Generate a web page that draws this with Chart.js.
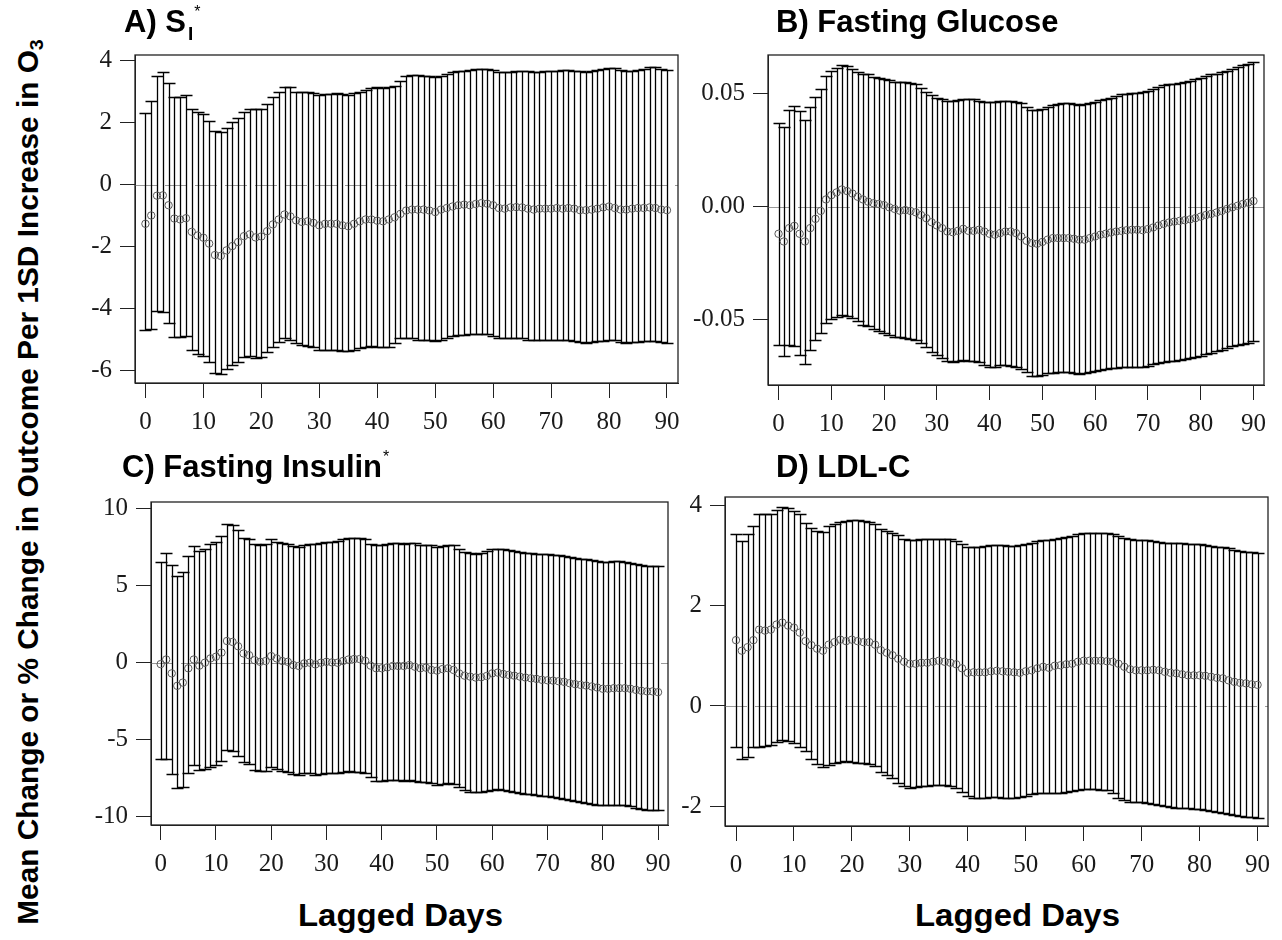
<!DOCTYPE html>
<html>
<head>
<meta charset="utf-8">
<script src="https://cdn.jsdelivr.net/npm/chart.js@4.4.1/dist/chart.umd.min.js"></script>
<style>
  body { margin: 0; background: #fff; width: 1282px; height: 940px; position: relative; overflow: hidden;
         font-family: 'Liberation Sans', Arial, sans-serif; }
  canvas { position: absolute; }
  .title { position: absolute; font-weight: bold; font-size: 31px; line-height: 1; white-space: nowrap; color: #000; }
  .sub { font-size: 19px; position: relative; top: 8px; margin-left: 2px; }
  .sup { font-size: 16px; font-weight: normal; position: relative; top: -15px; margin-left: 1px; }
  .xlab { position: absolute; font-weight: bold; font-size: 31px; line-height: 1; white-space: nowrap;
          transform-origin: center; }
  #ylab { position: absolute; font-weight: bold; font-size: 29px; line-height: 1; white-space: nowrap; }
</style>
</head>
<body>
<canvas id="chartA"></canvas>
<canvas id="chartB"></canvas>
<canvas id="chartC"></canvas>
<canvas id="chartD"></canvas>

<div class="title" style="left:124px;top:6px">A) S<span class="sub">I</span><span class="sup">*</span></div>
<div class="title" style="left:776px;top:6px">B) Fasting Glucose</div>
<div class="title" style="left:122px;top:451px">C) Fasting Insulin<span class="sup">*</span></div>
<div class="title" style="left:776px;top:451px">D) LDL-C</div>
<div class="xlab" id="xlabL" style="top:900px">Lagged Days</div>
<div class="xlab" id="xlabR" style="top:900px">Lagged Days</div>
<div id="ylab">Mean Change or % Change in Outcome Per 1SD Increase in O<sub style="font-size:19px;vertical-align:-5px">3</sub></div>

<script>
// lagged days 0..90
const lags = [0,1,2,3,4,5,6,7,8,9,10,11,12,13,14,15,16,17,18,19,20,21,22,23,24,25,26,27,28,29,
  30,31,32,33,34,35,36,37,38,39,40,41,42,43,44,45,46,47,48,49,50,51,52,53,54,55,56,57,58,59,
  60,61,62,63,64,65,66,67,68,69,70,71,72,73,74,75,76,77,78,79,80,81,82,83,84,85,86,87,88,89,90];
const xTicks = [0, 10, 20, 30, 40, 50, 60, 70, 80, 90];

// A) SI*
const siEst = [-1.27,-1.0,-0.36,-0.35,-0.67,-1.1,-1.13,-1.09,-1.53,-1.65,
  -1.72,-1.91,-2.28,-2.31,-2.13,-1.99,-1.86,-1.67,-1.61,-1.71,
  -1.68,-1.51,-1.29,-1.13,-0.97,-1.03,-1.16,-1.21,-1.19,-1.24,
  -1.32,-1.27,-1.27,-1.27,-1.32,-1.35,-1.27,-1.19,-1.13,-1.13,
  -1.17,-1.19,-1.13,-1.06,-0.95,-0.84,-0.81,-0.81,-0.81,-0.84,
  -0.89,-0.81,-0.76,-0.71,-0.67,-0.65,-0.67,-0.63,-0.6,-0.62,
  -0.67,-0.76,-0.78,-0.74,-0.73,-0.74,-0.78,-0.81,-0.78,-0.78,
  -0.78,-0.76,-0.78,-0.76,-0.78,-0.83,-0.83,-0.81,-0.78,-0.74,
  -0.71,-0.76,-0.81,-0.81,-0.78,-0.76,-0.76,-0.74,-0.76,-0.81,
  -0.83];
const siHi = [2.32,2.7,3.5,3.63,3.3,2.83,2.82,2.88,2.45,2.36,
  2.29,2.07,1.72,1.7,1.83,2.02,2.16,2.34,2.45,2.43,
  2.43,2.61,2.82,3.0,3.14,3.14,2.98,2.98,2.98,2.96,
  2.9,2.92,2.93,2.95,2.93,2.9,2.96,3.0,3.07,3.13,
  3.14,3.12,3.14,3.2,3.36,3.52,3.54,3.54,3.52,3.5,
  3.47,3.5,3.57,3.63,3.66,3.68,3.71,3.73,3.75,3.73,
  3.7,3.65,3.63,3.65,3.68,3.68,3.66,3.63,3.65,3.67,
  3.68,3.68,3.7,3.7,3.68,3.66,3.65,3.67,3.7,3.73,
  3.76,3.76,3.7,3.68,3.68,3.7,3.73,3.79,3.79,3.73,
  3.7];
const siLo = [-4.72,-4.66,-4.1,-4.13,-4.48,-4.93,-4.93,-4.91,-5.36,-5.47,
  -5.55,-5.73,-6.09,-6.13,-5.98,-5.84,-5.73,-5.57,-5.55,-5.61,
  -5.57,-5.41,-5.25,-5.09,-4.98,-5.02,-5.14,-5.2,-5.23,-5.27,
  -5.34,-5.36,-5.34,-5.36,-5.38,-5.38,-5.36,-5.3,-5.25,-5.23,
  -5.25,-5.27,-5.25,-5.14,-4.98,-4.95,-4.98,-5.02,-5.02,-5.04,
  -5.06,-5.02,-4.95,-4.91,-4.88,-4.86,-4.84,-4.82,-4.82,-4.84,
  -4.91,-4.98,-4.98,-4.95,-4.95,-4.98,-5.02,-5.04,-5.04,-5.04,
  -5.04,-5.04,-5.04,-5.04,-5.06,-5.09,-5.11,-5.09,-5.07,-5.06,
  -5.04,-5.04,-5.09,-5.11,-5.09,-5.09,-5.06,-5.06,-5.06,-5.09,
  -5.12];
const siTicks = [-6, -4, -2, 0, 2, 4];

// B) Fasting glucose
const gluEst = [-0.012,-0.0154,-0.0095,-0.0085,-0.012,-0.0154,-0.0095,-0.0054,-0.0019,0.0032,
  0.0051,0.0063,0.0076,0.0069,0.0058,0.0044,0.0032,0.0022,0.0015,0.0012,
  0.0007,-0.0003,-0.001,-0.0018,-0.0015,-0.0019,-0.0025,-0.0037,-0.0051,-0.0069,
  -0.0083,-0.0095,-0.011,-0.0113,-0.0107,-0.0098,-0.0107,-0.0107,-0.0102,-0.011,
  -0.012,-0.0124,-0.0117,-0.011,-0.011,-0.0117,-0.0132,-0.0151,-0.0161,-0.0164,
  -0.0156,-0.0146,-0.0139,-0.0139,-0.0139,-0.0139,-0.0142,-0.0146,-0.0146,-0.0139,
  -0.0132,-0.0124,-0.012,-0.0114,-0.011,-0.0107,-0.0104,-0.0102,-0.0102,-0.0104,
  -0.0099,-0.0092,-0.0083,-0.0076,-0.007,-0.0066,-0.0063,-0.006,-0.0056,-0.0051,
  -0.0044,-0.0037,-0.0032,-0.0026,-0.0019,-0.001,-0.0003,0.0004,0.0012,0.0018,
  0.0025];
const gluHi = [0.037,0.0351,0.0428,0.0446,0.0424,0.0385,0.0443,0.0487,0.0522,0.058,
  0.0599,0.0614,0.0626,0.0621,0.061,0.0595,0.0588,0.0585,0.0573,0.057,
  0.0567,0.056,0.0551,0.0551,0.0551,0.0545,0.0541,0.0526,0.0507,0.0493,
  0.0482,0.0475,0.0468,0.0468,0.0471,0.0478,0.0475,0.0475,0.0468,0.0465,
  0.0465,0.0465,0.0468,0.0468,0.0468,0.0463,0.046,0.0443,0.0428,0.0427,
  0.0431,0.0439,0.0449,0.0456,0.0458,0.0458,0.0453,0.045,0.0453,0.046,
  0.0465,0.0472,0.0478,0.0482,0.049,0.0497,0.05,0.0501,0.0504,0.0507,
  0.0512,0.0522,0.0531,0.0537,0.0541,0.0544,0.0547,0.0551,0.0556,0.0563,
  0.057,0.058,0.0585,0.0589,0.0596,0.0602,0.0611,0.0618,0.0626,0.0633,
  0.0639];
const gluLo = [-0.061,-0.0662,-0.061,-0.0618,-0.0658,-0.0697,-0.0636,-0.0592,-0.056,-0.0516,
  -0.0497,-0.0487,-0.0478,-0.0482,-0.0493,-0.0507,-0.0522,-0.0526,-0.0541,-0.0551,
  -0.0558,-0.0566,-0.0575,-0.0577,-0.058,-0.0585,-0.0592,-0.0604,-0.0621,-0.0643,
  -0.0658,-0.0668,-0.0683,-0.0687,-0.0683,-0.0677,-0.0683,-0.0683,-0.0687,-0.0702,
  -0.0709,-0.0709,-0.0702,-0.0699,-0.0705,-0.0709,-0.0716,-0.0731,-0.075,-0.075,
  -0.0746,-0.0738,-0.0734,-0.0731,-0.0731,-0.0731,-0.0738,-0.0741,-0.0738,-0.0731,
  -0.0727,-0.0721,-0.0716,-0.0713,-0.0712,-0.0709,-0.0709,-0.0709,-0.0709,-0.0709,
  -0.0705,-0.0697,-0.069,-0.0687,-0.0684,-0.0683,-0.068,-0.0675,-0.067,-0.0665,
  -0.0661,-0.0654,-0.0646,-0.064,-0.0633,-0.0626,-0.0617,-0.061,-0.0607,-0.0602,
  -0.0595];
const gluTicks = [-0.05, 0, 0.05];

// C) Fasting insulin*
const insEst = [-0.09,0.21,-0.69,-1.5,-1.29,-0.36,0.21,-0.19,0,0.28,
  0.39,0.66,1.41,1.35,1.07,0.6,0.49,0.17,0.06,0.11,
  0.43,0.28,0.11,0.06,-0.15,-0.21,-0.04,0,-0.11,0,
  0.06,0.02,0,0.11,0.21,0.24,0.24,0.13,-0.19,-0.36,
  -0.36,-0.3,-0.21,-0.21,-0.21,-0.15,-0.26,-0.36,-0.32,-0.47,
  -0.51,-0.41,-0.36,-0.47,-0.69,-0.84,-0.9,-0.96,-0.94,-0.86,
  -0.69,-0.64,-0.73,-0.79,-0.84,-0.9,-0.96,-1.01,-1.05,-1.11,
  -1.14,-1.16,-1.2,-1.24,-1.33,-1.39,-1.44,-1.48,-1.54,-1.61,
  -1.69,-1.69,-1.65,-1.65,-1.65,-1.69,-1.76,-1.82,-1.86,-1.86,
  -1.91];
const insHi = [6.56,7.1,6.32,5.64,5.89,6.92,7.57,7.25,7.4,7.72,
  7.85,8.21,9.0,8.96,8.64,8.1,8.0,7.72,7.67,7.72,
  8.0,7.85,7.78,7.72,7.57,7.5,7.67,7.72,7.72,7.78,
  7.82,7.85,7.89,8.0,8.1,8.1,8.1,8.04,7.72,7.67,
  7.67,7.72,7.74,7.74,7.72,7.78,7.74,7.61,7.67,7.63,
  7.52,7.57,7.67,7.61,7.4,7.18,7.1,7.07,7.14,7.25,
  7.35,7.4,7.35,7.31,7.25,7.18,7.14,7.1,7.07,7.05,
  7.03,6.99,6.97,6.92,6.86,6.82,6.75,6.71,6.67,6.6,
  6.56,6.56,6.58,6.58,6.56,6.5,6.43,6.35,6.28,6.28,
  6.28];
const insLo = [-6.26,-6.22,-7.22,-8.12,-8.08,-7.18,-6.62,-6.97,-6.9,-6.75,
  -6.62,-6.37,-5.68,-5.72,-6.05,-6.47,-6.58,-6.97,-7.05,-7.01,
  -6.75,-6.9,-7.01,-7.12,-7.22,-7.29,-7.18,-7.18,-7.27,-7.22,
  -7.18,-7.18,-7.18,-7.12,-7.05,-7.07,-7.07,-7.18,-7.44,-7.65,
  -7.65,-7.61,-7.59,-7.59,-7.65,-7.59,-7.65,-7.76,-7.72,-7.8,
  -7.91,-7.87,-7.82,-7.87,-8.08,-8.25,-8.36,-8.4,-8.36,-8.3,
  -8.23,-8.19,-8.25,-8.3,-8.36,-8.45,-8.51,-8.55,-8.6,-8.62,
  -8.66,-8.72,-8.77,-8.83,-8.9,-8.98,-9.05,-9.09,-9.15,-9.2,
  -9.26,-9.26,-9.26,-9.26,-9.26,-9.32,-9.41,-9.47,-9.54,-9.54,
  -9.54];
const insTicks = [-10, -5, 0, 5, 10];

// D) LDL-C
const ldlEst = [1.31,1.1,1.17,1.31,1.52,1.5,1.52,1.62,1.66,1.6,
  1.56,1.46,1.29,1.21,1.14,1.1,1.22,1.27,1.32,1.29,
  1.32,1.29,1.27,1.27,1.22,1.11,1.06,1.01,0.94,0.88,
  0.84,0.84,0.86,0.86,0.88,0.9,0.88,0.86,0.83,0.75,
  0.66,0.67,0.67,0.67,0.69,0.7,0.69,0.68,0.67,0.66,
  0.69,0.71,0.75,0.78,0.76,0.8,0.81,0.83,0.84,0.88,
  0.9,0.9,0.9,0.9,0.89,0.88,0.84,0.78,0.73,0.71,
  0.71,0.71,0.72,0.71,0.68,0.66,0.65,0.63,0.61,0.61,
  0.61,0.6,0.58,0.56,0.55,0.51,0.48,0.46,0.45,0.43,
  0.42];
const ldlHi = [3.42,3.29,3.42,3.58,3.82,3.82,3.83,3.91,3.96,3.95,
  3.89,3.82,3.64,3.55,3.49,3.47,3.58,3.62,3.66,3.68,
  3.7,3.7,3.68,3.66,3.62,3.52,3.49,3.45,3.4,3.32,
  3.3,3.3,3.32,3.32,3.33,3.33,3.33,3.32,3.29,3.23,
  3.17,3.17,3.17,3.19,3.21,3.2,3.2,3.19,3.19,3.2,
  3.22,3.25,3.29,3.3,3.3,3.33,3.35,3.37,3.39,3.42,
  3.44,3.45,3.45,3.45,3.45,3.43,3.39,3.34,3.32,3.3,
  3.3,3.3,3.29,3.27,3.25,3.25,3.24,3.24,3.22,3.22,
  3.22,3.21,3.19,3.17,3.16,3.14,3.11,3.09,3.07,3.06,
  3.04];
const ldlLo = [-0.81,-1.06,-1.02,-0.81,-0.81,-0.79,-0.77,-0.72,-0.67,-0.69,
  -0.74,-0.81,-0.89,-1.06,-1.16,-1.22,-1.18,-1.14,-1.12,-1.1,
  -1.12,-1.14,-1.14,-1.16,-1.2,-1.32,-1.37,-1.43,-1.53,-1.6,
  -1.63,-1.62,-1.6,-1.6,-1.58,-1.58,-1.58,-1.6,-1.63,-1.72,
  -1.8,-1.83,-1.83,-1.83,-1.82,-1.82,-1.83,-1.84,-1.84,-1.82,
  -1.8,-1.76,-1.74,-1.74,-1.74,-1.74,-1.73,-1.72,-1.7,-1.68,
  -1.66,-1.66,-1.66,-1.67,-1.68,-1.73,-1.83,-1.88,-1.91,-1.91,
  -1.91,-1.93,-1.95,-1.97,-1.99,-2.01,-2.03,-2.04,-2.04,-2.05,
  -2.06,-2.08,-2.09,-2.11,-2.13,-2.16,-2.18,-2.19,-2.21,-2.22,
  -2.24];
const ldlTicks = [-2, 0, 2, 4];

// plot boxes in page pixels and axis ranges
const panels = [
  { id: 'chartA', box: { l: 135, t: 52, r: 678, b: 383 }, est: siEst, lo: siLo, hi: siHi,
    x: [-1.8, 91.9], y: [-6.42, 4.19], ticks: siTicks, fmt: v => String(v) },
  { id: 'chartB', box: { l: 768, t: 52, r: 1264, b: 385 }, est: gluEst, lo: gluLo, hi: gluHi,
    x: [-2.0, 92.0], y: [-0.0789, 0.0671], ticks: gluTicks, fmt: v => v.toFixed(2) },
  { id: 'chartC', box: { l: 151, t: 499, r: 668, b: 825 }, est: insEst, lo: insLo, hi: insHi,
    x: [-1.75, 91.8], y: [-10.53, 10.43], ticks: insTicks, fmt: v => String(v) },
  { id: 'chartD', box: { l: 725, t: 494, r: 1268, b: 826 }, est: ldlEst, lo: ldlLo, hi: ldlHi,
    x: [-1.9, 91.8], y: [-2.39, 4.16], ticks: ldlTicks, fmt: v => String(v) },
];

const PAD_L = 80, PAD_T = 20, PAD_R = 30, PAD_B = 70;
const tickFont = { family: '"Liberation Serif", "Times New Roman", serif', size: 25 };

function errorBars(lo, hi) {
  return {
    id: 'errorBars',
    beforeDatasetsDraw(chart) {
      const { ctx, chartArea: a, scales: { x, y } } = chart;
      ctx.save();
      // dashed reference line at zero
      const y0 = Math.round(y.getPixelForValue(0)) + 0.5;
      ctx.strokeStyle = '#999';
      ctx.lineWidth = 1.2;
      ctx.setLineDash([22, 8]);
      ctx.beginPath();
      ctx.moveTo(a.left, y0);
      ctx.lineTo(a.right, y0);
      ctx.stroke();
      ctx.setLineDash([]);

      ctx.strokeStyle = '#000';
      ctx.lineWidth = 1.3;
      lags.forEach((lag, i) => {
        const px = Math.round(x.getPixelForValue(lag)) + 0.5;
        const yl = Math.round(y.getPixelForValue(lo[i])) + 0.5;
        const yh = Math.round(y.getPixelForValue(hi[i])) + 0.5;
        ctx.beginPath();
        ctx.moveTo(px, yl);
        ctx.lineTo(px, yh);
        ctx.moveTo(px - 6, yl);
        ctx.lineTo(px + 6, yl);
        ctx.moveTo(px - 6, yh);
        ctx.lineTo(px + 6, yh);
        ctx.stroke();
      });
      ctx.restore();
    },
    afterDraw(chart) {
      const { ctx, chartArea: a } = chart;
      ctx.save();
      ctx.strokeStyle = '#222';
      ctx.lineWidth = 1.3;
      ctx.strokeRect(a.left, a.top, a.right - a.left, a.bottom - a.top);
      ctx.restore();
    }
  };
}

for (const p of panels) {
  const canvas = document.getElementById(p.id);
  const w = p.box.r - p.box.l + PAD_L + PAD_R;
  const h = p.box.b - p.box.t + PAD_T + PAD_B;
  canvas.width = w;
  canvas.height = h;
  canvas.style.width = w + 'px';
  canvas.style.height = h + 'px';
  canvas.style.left = (p.box.l - PAD_L) + 'px';
  canvas.style.top = (p.box.t - PAD_T) + 'px';

  new Chart(canvas, {
    type: 'scatter',
    data: {
      datasets: [{
        data: lags.map((lag, i) => ({ x: lag, y: p.est[i] })),
        pointStyle: 'circle',
        pointRadius: 3.7,
        pointBorderWidth: 1,
        pointBorderColor: '#5a5a5a',
        pointBackgroundColor: 'rgba(0,0,0,0)',
        showLine: false,
      }]
    },
    options: {
      responsive: false,
      animation: false,
      devicePixelRatio: 1,
      layout: { padding: { left: 0, top: PAD_T, right: PAD_R, bottom: 0 } },
      plugins: { legend: { display: false }, tooltip: { enabled: false } },
      scales: {
        x: {
          type: 'linear',
          min: p.x[0],
          max: p.x[1],
          afterBuildTicks: s => { s.ticks = xTicks.map(v => ({ value: v })); },
          afterFit: s => { s.height = PAD_B; },
          grid: { drawOnChartArea: false, drawTicks: true, tickLength: 15, color: '#222' },
          border: { display: true, color: '#222' },
          ticks: { font: tickFont, color: '#1a1a1a', padding: 9, maxRotation: 0, autoSkip: false },
        },
        y: {
          type: 'linear',
          min: p.y[0],
          max: p.y[1],
          afterBuildTicks: s => { s.ticks = p.ticks.map(v => ({ value: v })); },
          afterFit: s => { s.width = PAD_L; },
          grid: { drawOnChartArea: false, drawTicks: true, tickLength: 15, color: '#222' },
          border: { display: true, color: '#222' },
          ticks: { font: tickFont, color: '#1a1a1a', padding: 8, autoSkip: false,
                   callback: v => p.fmt(v) },
        }
      }
    },
    plugins: [errorBars(p.lo, p.hi)]
  });
}

// axis titles, stretched to the widths in the figure
function placeX(el, cx, width) {
  const s = width / el.offsetWidth;
  el.style.left = (cx - el.offsetWidth / 2) + 'px';
  el.style.transform = `scaleX(${s})`;
}
placeX(document.getElementById('xlabL'), 400, 205);
placeX(document.getElementById('xlabR'), 1017, 205);

const ylab = document.getElementById('ylab');
const ys = 885 / ylab.offsetWidth;
ylab.style.left = '30px';
ylab.style.top = '482px';
ylab.style.transform = `translate(-50%, -50%) rotate(-90deg) scaleX(${ys})`;
ylab.style.transformOrigin = 'center';
</script>
</body>
</html>
